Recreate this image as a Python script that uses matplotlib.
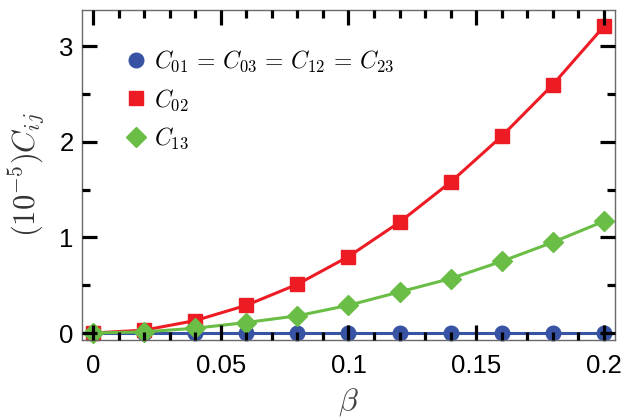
import matplotlib
matplotlib.use("Agg")
import matplotlib.pyplot as plt
from matplotlib.ticker import MultipleLocator, FixedLocator

beta = [0.0, 0.02, 0.04, 0.06, 0.08, 0.10, 0.12, 0.14, 0.16, 0.18, 0.20]
c_blue = [0, 0, 0, 0, 0, 0, 0, 0, 0, 0, 0]
c02 = [0.0, 0.03, 0.13, 0.29, 0.51, 0.80, 1.16, 1.58, 2.06, 2.60, 3.21]
c13 = [0.0, 0.012, 0.05, 0.11, 0.18, 0.29, 0.43, 0.57, 0.75, 0.95, 1.17]

labels = [r"$C_{01}\,=\,C_{03}\,=\,C_{12}\,=\,C_{23}$", r"$C_{02}$", r"$C_{13}$"]
xticks = [0, 0.05, 0.1, 0.15, 0.2]
xticklabels = ["0", "0.05", "0.1", "0.15", "0.2"]
yticks = [0, 1, 2, 3]

plt.rcParams["mathtext.fontset"] = "cm"
plt.rcParams["font.family"] = ["Liberation Sans", "DejaVu Sans"]

fig = plt.figure(figsize=(6.34, 4.19), dpi=100)
ax = fig.add_axes([82/634, 1-340/419, (615-82)/634, (340-10)/419])

blue = "#3853A4"
red = "#ED1C24"
green = "#6ABD45"

ax.plot(beta, c_blue, color=blue, lw=2.2, marker="o", ms=10.5, label=labels[0], clip_on=False, zorder=2)
ax.plot(beta, c02, color=red, lw=2.2, marker="s", ms=10, label=labels[1], clip_on=False, zorder=2)
ax.plot(beta, c13, color=green, lw=2.2, marker="D", ms=10, label=labels[2], clip_on=False, zorder=2)

ax.set_xlim(-0.0043, 0.2043)
ax.set_ylim(-0.073, 3.38)
ax.set_axisbelow(False)

ax.xaxis.set_major_locator(FixedLocator(xticks))
ax.set_xticklabels(xticklabels)
ax.xaxis.set_minor_locator(MultipleLocator(0.01))
ax.yaxis.set_major_locator(FixedLocator(yticks))
ax.yaxis.set_minor_locator(MultipleLocator(0.5))

ax.tick_params(which="both", direction="in", top=True, right=True, color="black", labelsize=18.5)
ax.tick_params(axis="x", which="major", length=11, width=2.3, pad=10)
ax.tick_params(axis="y", which="major", length=11, width=2.3, pad=6)
ax.tick_params(which="minor", length=6, width=2.3)

for s in ax.spines.values():
    s.set_color("#6a6a6a")
    s.set_linewidth(1.0)

ax.set_xlabel(r"$\beta$", fontsize=23, color="#444444", labelpad=6)
ax.set_ylabel(r"$(10^{-5})C_{ij}$", fontsize=22, color="#333333", labelpad=8)

leg = ax.legend(loc="upper left", bbox_to_anchor=(0.062, 0.91), frameon=False, fontsize=17,
                handlelength=0.95, handletextpad=0.3, labelspacing=0.55, borderaxespad=0)
for h in leg.legend_handles:
    h.set_linestyle("none")

fig.savefig("out.png", dpi=100)
